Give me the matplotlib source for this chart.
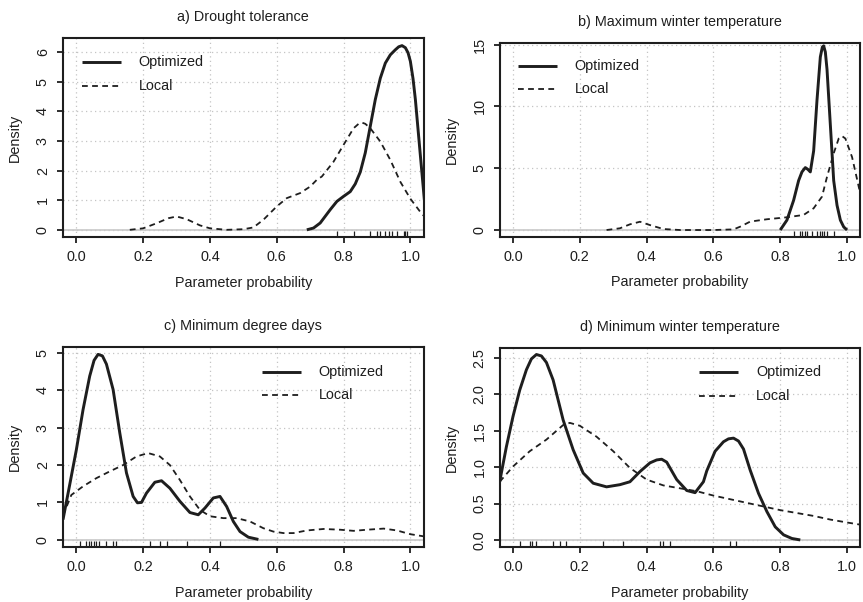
import matplotlib.pyplot as plt

plt.rcParams["font.family"] = ["Liberation Sans", "DejaVu Sans"]
plt.rcParams["font.size"] = 10.4

# ---- data (density curves + rug of optimized values) ----
titles = ["a) Drought tolerance", "b) Maximum winter temperature",
          "c) Minimum degree days", "d) Minimum winter temperature"]
series_names = ["Optimized", "Local"]

# a) Drought tolerance
a_opt_x = [0.69, 0.71, 0.73, 0.76, 0.78, 0.80, 0.82, 0.835, 0.85, 0.865, 0.88, 0.895,
           0.91, 0.925, 0.94, 0.955, 0.965, 0.975, 0.985, 0.993, 1.0, 1.008, 1.015,
           1.03, 1.042]
a_opt_y = [0.0, 0.06, 0.23, 0.68, 0.96, 1.13, 1.29, 1.55, 1.95, 2.6, 3.5, 4.4,
           5.12, 5.63, 5.91, 6.08, 6.18, 6.22, 6.15, 5.98, 5.69, 5.1, 4.4,
           2.5, 1.0]
a_loc_x = [0.16, 0.2, 0.24, 0.275, 0.30, 0.33, 0.37, 0.40, 0.45, 0.50, 0.53, 0.56,
           0.60, 0.63, 0.67, 0.70, 0.72, 0.735, 0.77, 0.80, 0.83, 0.845, 0.855, 0.865,
           0.88, 0.91, 0.94, 0.97, 1.0, 1.03, 1.042]
a_loc_y = [0.0, 0.05, 0.22, 0.39, 0.45, 0.36, 0.15, 0.05, 0.0, 0.02, 0.08, 0.34,
           0.79, 1.07, 1.24, 1.46, 1.69, 1.8, 2.3, 2.87, 3.43, 3.58, 3.62, 3.58,
           3.43, 2.98, 2.36, 1.62, 1.05, 0.6, 0.45]
a_rug = [0.78, 0.83, 0.88, 0.90, 0.91, 0.925, 0.935, 0.945, 0.96, 0.98, 0.985, 0.99]

# b) Maximum winter temperature
b_opt_x = [0.80, 0.82, 0.84, 0.855, 0.865, 0.875, 0.883, 0.89, 0.90, 0.91, 0.92,
           0.926, 0.93, 0.935, 0.94, 0.95, 0.96, 0.97, 0.98, 0.99, 1.0]
b_opt_y = [0.0, 0.8, 2.4, 4.0, 4.7, 5.05, 4.9, 4.7, 6.4, 10.5, 14.0,
           14.8, 14.9, 14.4, 13.0, 8.5, 4.0, 2.0, 0.8, 0.25, 0.0]
b_loc_x = [0.28, 0.32, 0.35, 0.38, 0.41, 0.45, 0.50, 0.60, 0.66, 0.68, 0.71, 0.76,
           0.82, 0.87, 0.90, 0.925, 0.94, 0.96, 0.975, 0.985, 0.995, 1.015, 1.035,
           1.043]
b_loc_y = [0.0, 0.14, 0.46, 0.67, 0.4, 0.08, 0.0, 0.0, 0.05, 0.27, 0.68, 0.87,
           1.03, 1.22, 1.76, 2.7, 4.3, 6.2, 7.4, 7.6, 7.4, 5.9, 3.5, 2.5]
b_rug = [0.84, 0.86, 0.865, 0.875, 0.88, 0.895, 0.91, 0.92, 0.925, 0.93, 0.94, 0.96]

# c) Minimum degree days
c_opt_x = [-0.04, -0.02, 0.0, 0.02, 0.04, 0.053, 0.065, 0.078, 0.09, 0.11, 0.13,
           0.15, 0.17, 0.183, 0.195, 0.21, 0.235, 0.255, 0.28, 0.31, 0.34, 0.365,
           0.385, 0.41, 0.43, 0.45, 0.47, 0.49, 0.515, 0.545]
c_opt_y = [0.54, 1.47, 2.41, 3.48, 4.38, 4.8, 4.96, 4.92, 4.7, 4.02, 2.86,
           1.79, 1.16, 0.99, 1.0, 1.25, 1.54, 1.58, 1.38, 1.03, 0.73, 0.67,
           0.85, 1.12, 1.16, 0.89, 0.49, 0.22, 0.07, 0.01]
c_loc_x = [-0.04, -0.015, 0.02, 0.06, 0.10, 0.14, 0.18, 0.215, 0.25, 0.28, 0.31,
           0.34, 0.37, 0.40, 0.44, 0.48, 0.52, 0.56, 0.59, 0.62, 0.65, 0.69, 0.74,
           0.79, 0.83, 0.87, 0.92, 0.96, 1.0, 1.042]
c_loc_y = [0.65, 1.2, 1.43, 1.65, 1.83, 2.0, 2.23, 2.32, 2.23, 2.0, 1.6,
           1.16, 0.8, 0.63, 0.58, 0.58, 0.49, 0.31, 0.22, 0.18, 0.18, 0.25, 0.29,
           0.27, 0.24, 0.27, 0.30, 0.25, 0.15, 0.09]
c_rug = [0.01, 0.03, 0.038, 0.045, 0.052, 0.06, 0.068, 0.09, 0.11, 0.12,
         0.22, 0.25, 0.27, 0.33, 0.43]

# d) Minimum winter temperature
d_opt_x = [-0.04, -0.02, 0.0, 0.02, 0.04, 0.055, 0.07, 0.085, 0.1, 0.12, 0.15,
           0.18, 0.21, 0.24, 0.28, 0.32, 0.35, 0.38, 0.41, 0.43, 0.445, 0.46,
           0.49, 0.52, 0.545, 0.57, 0.58, 0.605, 0.63, 0.645, 0.66, 0.675, 0.69,
           0.71, 0.735, 0.76, 0.785, 0.81, 0.835, 0.86]
d_opt_y = [0.8, 1.28, 1.7, 2.06, 2.34, 2.49, 2.55, 2.53, 2.44, 2.2, 1.65,
           1.24, 0.92, 0.78, 0.73, 0.76, 0.8, 0.94, 1.06, 1.10, 1.11, 1.07,
           0.83, 0.68, 0.65, 0.8, 0.95, 1.22, 1.35, 1.39, 1.40, 1.36, 1.25,
           0.96, 0.64, 0.39, 0.18, 0.07, 0.02, 0.0]
d_loc_x = [-0.04, 0.0, 0.05, 0.10, 0.15, 0.17, 0.20, 0.25, 0.30, 0.35, 0.40, 0.45,
           0.50, 0.55, 0.60, 0.65, 0.70, 0.75, 0.80, 0.85, 0.90, 0.95, 1.0, 1.04]
d_loc_y = [0.8, 1.01, 1.22, 1.38, 1.58, 1.61, 1.57, 1.42, 1.22, 0.99, 0.83, 0.75,
           0.71, 0.67, 0.61, 0.56, 0.51, 0.46, 0.41, 0.37, 0.33, 0.28, 0.24, 0.21]
d_rug = [0.02, 0.05, 0.058, 0.07, 0.12, 0.14, 0.16, 0.27, 0.33, 0.44, 0.45, 0.47,
         0.65, 0.668]

y_ticks = [[0, 1, 2, 3, 4, 5, 6], [0, 5, 10, 15], [0, 1, 2, 3, 4, 5],
           [0.0, 0.5, 1.0, 1.5, 2.0, 2.5]]
y_ticklabels = [["0", "1", "2", "3", "4", "5", "6"], ["0", "5", "10", "15"],
                ["0", "1", "2", "3", "4", "5"],
                ["0.0", "0.5", "1.0", "1.5", "2.0", "2.5"]]
x_ticks = [0.0, 0.2, 0.4, 0.6, 0.8, 1.0]
x_ticklabels = ["0.0", "0.2", "0.4", "0.6", "0.8", "1.0"]

# ---- layout ----
INK = "#1e1e1e"
fig = plt.figure(figsize=(8.63, 6.02), dpi=100)

boxes = [[0.073, 0.606, 0.418, 0.331],
         [0.579, 0.606, 0.418, 0.323],
         [0.073, 0.091, 0.418, 0.332],
         [0.579, 0.091, 0.418, 0.331]]
ylims = [(-0.249, 6.48), (-0.58, 15.15), (-0.198, 5.148), (-0.1, 2.64)]
legend_left = [0.052, 0.05, 0.551, 0.553]

panels = [(a_opt_x, a_opt_y, a_loc_x, a_loc_y, a_rug),
          (b_opt_x, b_opt_y, b_loc_x, b_loc_y, b_rug),
          (c_opt_x, c_opt_y, c_loc_x, c_loc_y, c_rug),
          (d_opt_x, d_opt_y, d_loc_x, d_loc_y, d_rug)]

for i, (ox, oy, lx, ly, rug) in enumerate(panels):
    ax = fig.add_axes(boxes[i])
    ax.set_xlim(-0.04, 1.04)
    ax.set_ylim(*ylims[i])

    # dotted grid and grey zero line
    ax.grid(True, linestyle=(0, (1, 2.6)), color="#c4c4c4", lw=0.9)
    ax.set_axisbelow(True)
    ax.axhline(0, color="#c8c8c8", lw=1.2, zorder=1)

    ax.plot(ox, oy, color=INK, lw=2.1, solid_joinstyle="round",
            solid_capstyle="butt", zorder=3)
    ax.plot(lx, ly, color=INK, lw=1.3, dashes=(3.2, 2.4), zorder=3)

    # rug of optimized values
    ax.vlines(rug, 0, 0.03, color=INK, lw=0.9,
              transform=ax.get_xaxis_transform(), zorder=4)

    ax.set_xticks(x_ticks)
    ax.set_xticklabels(x_ticklabels)
    ax.set_yticks(y_ticks[i])
    ax.set_yticklabels(y_ticklabels[i], rotation=90, va="center")
    ax.tick_params(length=4.5, width=1.3, color=INK, labelcolor=INK,
                   labelsize=10.4, pad=5)
    for sp in ax.spines.values():
        sp.set_linewidth(1.5)
        sp.set_color(INK)

    ax.set_title(titles[i], y=1.105, va="center", pad=0, color=INK, fontsize=10.4)
    ax.set_xlabel("Parameter probability", color=INK)
    ax.xaxis.set_label_coords(0.5, -0.231)
    ax.xaxis.label.set_va("center")
    ax.set_ylabel("Density", color=INK)
    ax.yaxis.set_label_coords(-0.133, 0.5)
    ax.yaxis.label.set_va("center")

    # legend drawn by hand (no box)
    x0 = legend_left[i]
    for k, (name, style) in enumerate(zip(series_names, ["solid", "dashed"])):
        yy = 0.879 - k * 0.119
        if style == "solid":
            ax.plot([x0, x0 + 0.108], [yy, yy], color=INK, lw=2.1,
                    transform=ax.transAxes, solid_capstyle="butt")
        else:
            ax.plot([x0, x0 + 0.108], [yy, yy], color=INK, lw=1.3,
                    dashes=(3.2, 2.4), transform=ax.transAxes)
        ax.text(x0 + 0.158, yy, name, transform=ax.transAxes, va="center",
                ha="left", color=INK, fontsize=10.4)

fig.savefig("out.png", dpi=100)
